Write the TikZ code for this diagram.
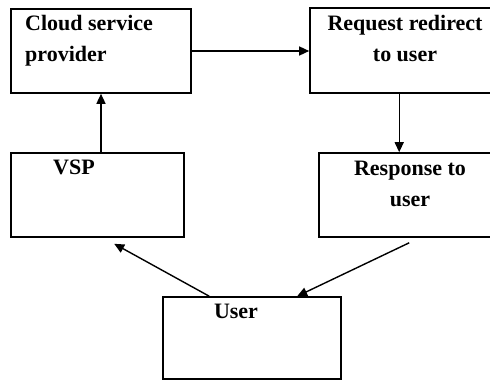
\documentclass[tikz,border=0pt]{standalone}
\usepackage{fontspec}
\setmainfont{Liberation Serif}
\usetikzlibrary{arrows.meta,positioning}

\begin{document}
\begin{tikzpicture}[x=1pt, y=-1pt, every node/.style={font=\fontsize{22}{31}\selectfont\bfseries},
    box/.style={draw, line width=1.6pt, rectangle, inner sep=0pt},
    lbl/.style={inner sep=0pt},
    flow/.style={-{Triangle[length=10pt,width=9pt]}, line width=1.4pt}]
    \useasboundingbox (0,0) rectangle (490,381);
    % boxes
    \node[box, minimum width=180pt, minimum height=84pt] (csp) at (101,51) {};
    \node[box, minimum width=220pt, minimum height=85pt] (req) at (420,50.5) {};
    \node[box, minimum width=173pt, minimum height=84pt] (vsp) at (97.5,195) {};
    \node[box, minimum width=211pt, minimum height=84pt] (resp) at (424.5,195) {};
    \node[box, minimum width=178pt, minimum height=82pt] (user) at (252,338) {};
    % texts
    \node[lbl, align=left, anchor=north west] (cspt) at (25,15) {Cloud service\\provider};
    \node[lbl, align=center, anchor=north] (reqt) at (405,15) {Request redirect\\to user};
    \node[lbl, anchor=base west] (vspt) at (53,174) {VSP};
    \node[lbl, align=center, anchor=north] (respt) at (410,160.4) {Response to\\user};
    \node[lbl, anchor=base] (usert) at (236,318) {User};
    % arrows
    \draw[flow] (csp.east) -- (csp.east -| req.west);
    \draw[flow] (csp.south |- vsp.north) -- (csp.south);
    \draw[flow] ([xshift=90pt]req.south west) -- ([xshift=90pt]req.south west |- resp.north);
    \draw[flow] ([xshift=91pt,yshift=-5pt]resp.south west) -- ([xshift=135pt]user.north west);
    \draw[flow] ([xshift=47pt]user.north west) -- ([xshift=104pt,yshift=-6pt]vsp.south west);
\end{tikzpicture}
\end{document}
